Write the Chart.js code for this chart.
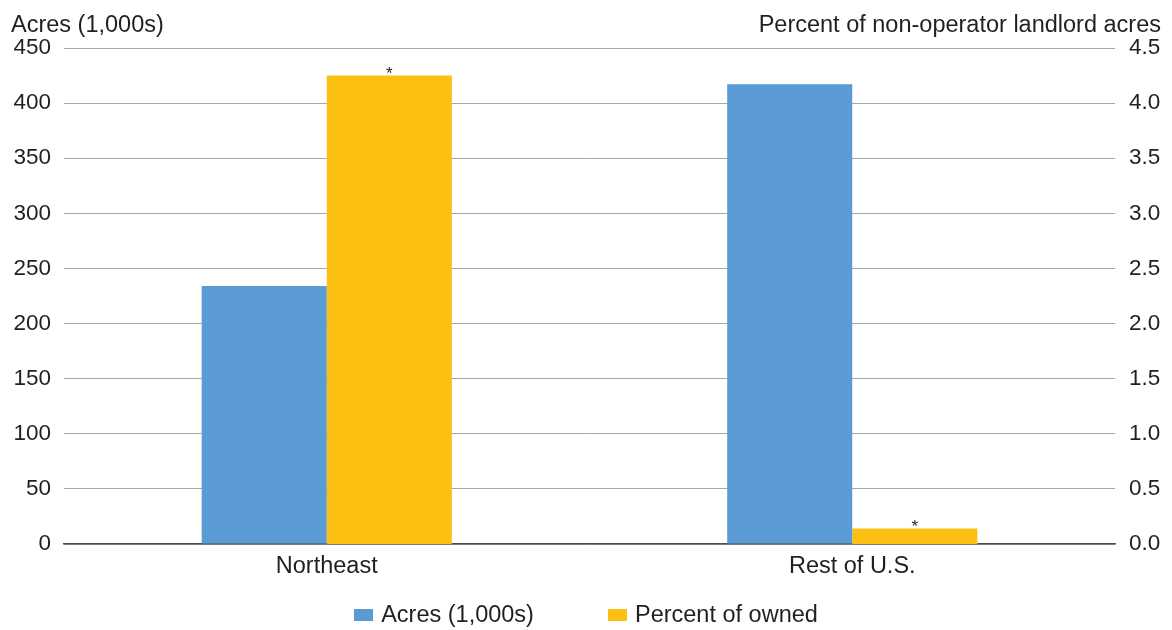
<!DOCTYPE html>
<html>
<head>
<meta charset="utf-8">
<script src="https://cdn.jsdelivr.net/npm/chart.js@4.4.1/dist/chart.umd.min.js"></script>
<style>
  html, body { margin: 0; padding: 0; background: #fff; }
  #wrap { position: relative; width: 1172px; height: 630px; }
  #legend { position: absolute; left: 0; top: 601px; width: 1172px; display: flex; justify-content: center;
            font-family: "Liberation Sans", Arial, sans-serif; font-size: 23.5px; color: #231f20; }
  .item { display: flex; align-items: center; margin: 0 37px; }
  .box { width: 19px; height: 12px; margin-right: 8px; }
</style>
</head>
<body>
<div id="wrap">
  <canvas id="c" width="1172" height="630"></canvas>
  <div id="legend"></div>
</div>
<script>
// Acres held by non-operator landlords, Northeast vs rest of U.S.
const regions = ["Northeast", "Rest of U.S."];
const acres = [234, 417];            // left axis, 1,000 acres
const percentOwned = [4.25, 0.14];   // right axis, percent
const markers = ["*", "*"];          // notes over the percent bars
const leftTitle = "Acres (1,000s)";
const rightTitle = "Percent of non-operator landlord acres";
const seriesNames = ["Acres (1,000s)", "Percent of owned"];
const colors = ["#5b9bd5", "#fbc012"];

const FONT = "Liberation Sans, Arial, sans-serif";
const INK = "#231f20";

const $ = (id) => document.getElementById(id);

$("legend").innerHTML = seriesNames.map((n, i) =>
  `<div class="item"><span class="box" style="background:${colors[i]}"></span>${n}</div>`).join("");

const extras = {
  id: "extras",
  afterDraw(chart) {
    const { ctx } = chart;
    ctx.save();
    ctx.fillStyle = INK;
    ctx.font = `23.5px ${FONT}`;
    ctx.textBaseline = "alphabetic";
    ctx.textAlign = "left";
    ctx.fillText(leftTitle, 11, 32);
    ctx.textAlign = "right";
    ctx.fillText(rightTitle, 1161, 32);
    // asterisks above the percent bars
    const meta = chart.getDatasetMeta(1);
    ctx.font = `17px ${FONT}`;
    ctx.textAlign = "center";
    meta.data.forEach((bar, i) => {
      if (markers[i]) ctx.fillText(markers[i], bar.x, bar.y + 3);
    });
    ctx.restore();
  }
};

new Chart($("c"), {
  type: "bar",
  data: {
    labels: regions,
    datasets: [
      { label: seriesNames[0], data: acres, backgroundColor: colors[0], yAxisID: "y" },
      { label: seriesNames[1], data: percentOwned, backgroundColor: colors[1], yAxisID: "y1" }
    ]
  },
  options: {
    responsive: false,
    animation: false,
    categoryPercentage: 0.476,
    barPercentage: 1,
    layout: { padding: { top: 48, bottom: 46, left: 0, right: 0 } },
    plugins: { legend: { display: false }, tooltip: { enabled: false } },
    scales: {
      x: {
        afterFit: (s) => { s.height = 40; },
        grid: { display: false, drawTicks: false },
        border: { display: true, color: "#4d4d4d", width: 1.5 },
        ticks: { color: INK, font: { family: FONT, size: 23.5 }, padding: 8 }
      },
      y: {
        position: "left",
        min: 0, max: 450,
        afterFit: (s) => { s.width = 64; },
        grid: { color: "#a6a6a6", lineWidth: 1, drawTicks: false },
        border: { display: false },
        ticks: { stepSize: 50, color: INK, font: { family: FONT, size: 22.5 }, padding: 13 }
      },
      y1: {
        position: "right",
        min: 0, max: 4.5,
        afterFit: (s) => { s.width = 57; },
        grid: { display: false, drawTicks: false },
        border: { display: false },
        ticks: { stepSize: 0.5, color: INK, font: { family: FONT, size: 22.5 }, padding: 14,
                 callback: (v) => Number(v).toFixed(1) }
      }
    }
  },
  plugins: [extras]
});
</script>
</body>
</html>
